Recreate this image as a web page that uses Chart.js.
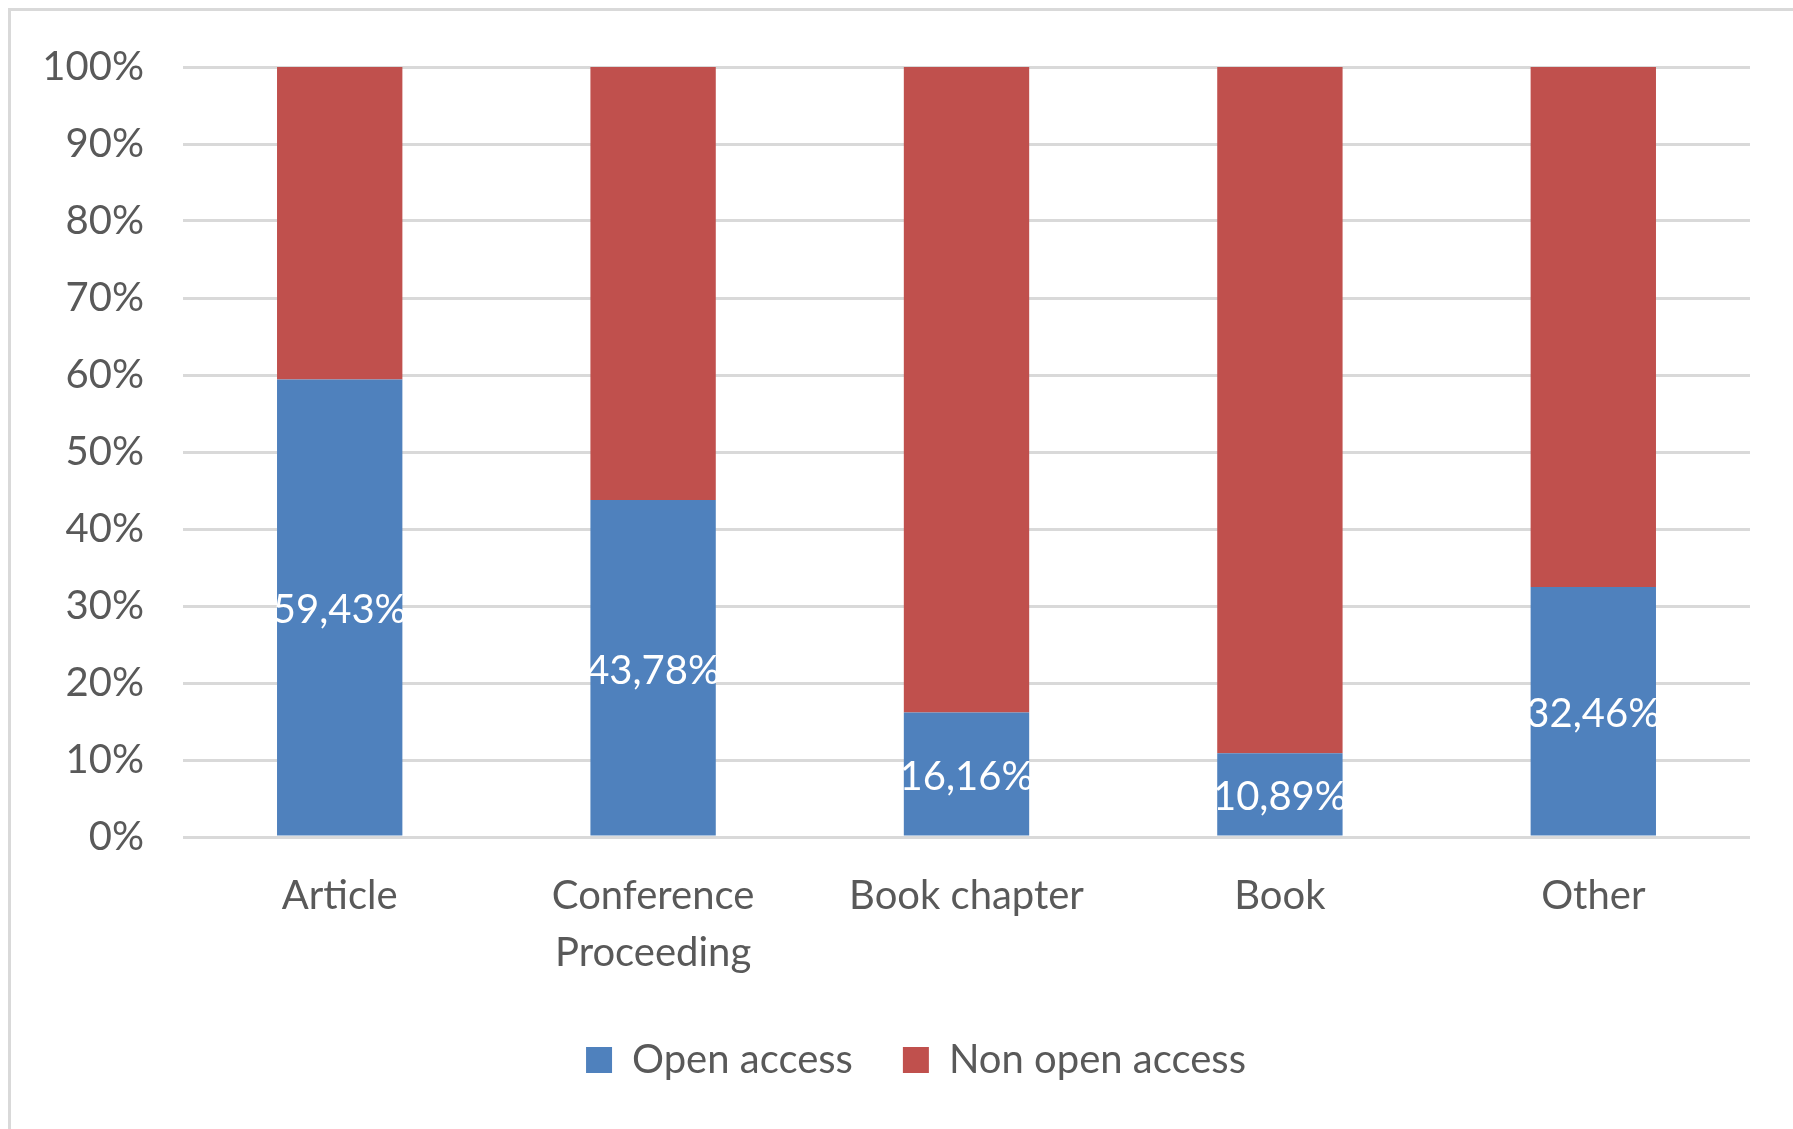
<!DOCTYPE html>
<html lang="en">
<head>
  <meta charset="UTF-8" />
  <title>Open access by document type</title>
  <script src="https://cdn.jsdelivr.net/npm/chart.js"></script>
  <style>
    html, body {
      margin: 0;
      padding: 0;
      background: #fff;
    }
    body {
      width: 1793px;
      height: 1129px;
      position: relative;
      overflow: hidden;
    }
    .frame {
      position: absolute;
      left: 8px;
      top: 8px;
      width: 1810px;
      height: 1140px;
      border-top: 3px solid #d9d9d9;
      border-left: 3px solid #d9d9d9;
    }
    canvas {
      position: absolute;
      left: 0;
      top: 0;
    }
  </style>
</head>
<body>
<div class="frame"></div>
<canvas id="chart" width="1793" height="1129"></canvas>

<script>
const categories = ["Article", ["Conference", "Proceeding"], "Book chapter", "Book", "Other"];
const openAccess = [59.43, 43.78, 16.16, 10.89, 32.46];
const nonOpenAccess = [40.57, 56.22, 83.84, 89.11, 67.54];
const yTicks = [0, 10, 20, 30, 40, 50, 60, 70, 80, 90, 100];

const FONT = "Lato, 'Open Sans', sans-serif";
const GREY_TEXT = "#595959";

// white percentage labels centred in the blue segments
const barLabels = {
  id: "barLabels",
  afterDatasetsDraw(chart) {
    const ctx = chart.ctx;
    const meta = chart.getDatasetMeta(0);
    ctx.save();
    ctx.fillStyle = "#ffffff";
    ctx.font = "40px " + FONT;
    ctx.textAlign = "center";
    ctx.textBaseline = "middle";
    meta.data.forEach((bar, i) => {
      const y = (bar.y + bar.base) / 2 + 3;
      ctx.fillText(openAccess[i].toFixed(2).replace(".", ",") + "%", bar.x, y);
    });
    ctx.restore();
  }
};

// legend sits a bit right of the canvas centre in the original
const legendNudge = {
  id: "legendNudge",
  afterLayout(chart) {
    chart.legend.left += 21;
    chart.legend.right += 21;
  }
};

const ctx = document.getElementById("chart").getContext("2d");
new Chart(ctx, {
  type: "bar",
  data: {
    labels: categories,
    datasets: [
      {
        label: "Open access",
        data: openAccess,
        backgroundColor: "#4f81bd",
        categoryPercentage: 0.4,
        barPercentage: 1
      },
      {
        label: "Non open access",
        data: nonOpenAccess,
        backgroundColor: "#c0504d",
        categoryPercentage: 0.4,
        barPercentage: 1
      }
    ]
  },
  options: {
    responsive: false,
    animation: false,
    layout: {
      padding: { left: 40, right: 43, top: 67, bottom: 39 }
    },
    plugins: {
      tooltip: { enabled: false },
      legend: {
        position: "bottom",
        labels: {
          color: GREY_TEXT,
          font: { family: FONT, size: 40 },
          boxWidth: 26,
          boxHeight: 26,
          padding: 50
        }
      }
    },
    scales: {
      x: {
        stacked: true,
        grid: { display: false, drawTicks: false },
        border: { display: false },
        ticks: {
          color: GREY_TEXT,
          font: { family: FONT, size: 40, lineHeight: 1.43 },
          padding: 30,
          maxRotation: 0,
          autoSkip: false
        },
        afterFit(scale) { scale.height = 153; }
      },
      y: {
        stacked: true,
        min: 0,
        max: 100,
        grid: { color: "#d9d9d9", lineWidth: 3, drawTicks: false },
        border: { display: false },
        afterBuildTicks(scale) {
          scale.ticks = yTicks.map(v => ({ value: v }));
        },
        ticks: {
          color: GREY_TEXT,
          font: { family: FONT, size: 40 },
          padding: 39,
          callback: v => v + "%"
        },
        afterFit(scale) { scale.width = 143; }
      }
    }
  },
  plugins: [barLabels, legendNudge]
});
</script>
</body>
</html>
